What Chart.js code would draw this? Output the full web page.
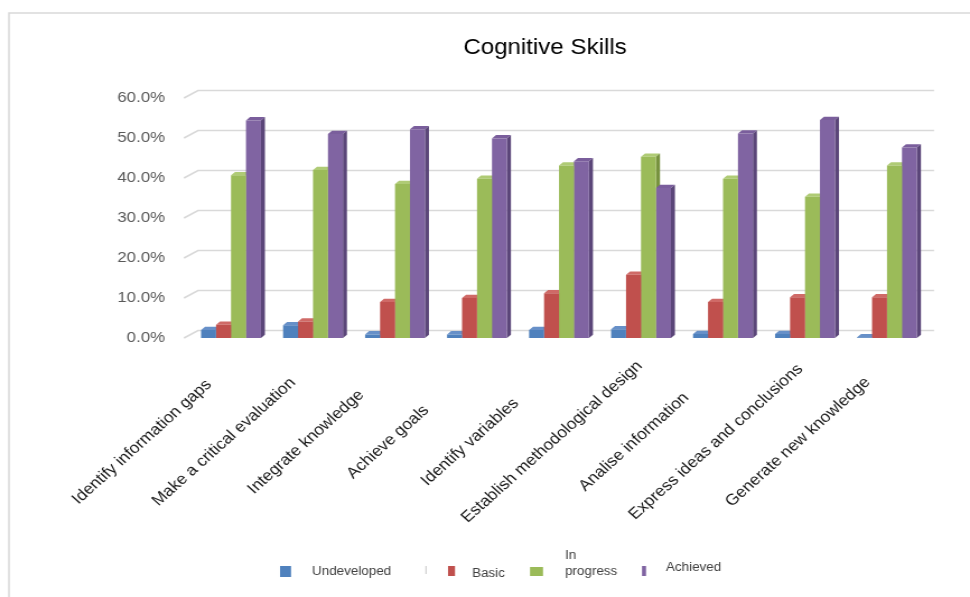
<!DOCTYPE html>
<html>
<head>
<meta charset="utf-8">
<style>
html,body{margin:0;padding:0;background:#fff;overflow:hidden;}
canvas{display:block;width:970px !important;height:597px !important;}
</style>
<script src="https://cdn.jsdelivr.net/npm/chart.js@4.4.1/dist/chart.umd.min.js"></script>
</head>
<body>
<canvas id="c" width="866" height="597"></canvas>
<script>
// ---- data ----
const categories = [
  "Identify information gaps",
  "Make a critical evaluation",
  "Integrate knowledge",
  "Achieve goals",
  "Identify variables",
  "Establish methodological design",
  "Analise information",
  "Express ideas and conclusions",
  "Generate new knowledge"
];
const seriesNames = ["Undeveloped", "Basic", "In progress", "Achieved"];
const undeveloped = [2.0, 3.2, 0.9, 0.9, 2.0, 2.2, 1.0, 1.0, 0.2];
const basic       = [3.3, 4.1, 9.0, 10.0, 11.2, 15.8, 9.0, 10.2, 10.2];
const inProgress  = [40.7, 42.0, 38.5, 39.8, 43.1, 45.3, 39.8, 35.3, 43.1];
const achieved    = [54.4, 51.0, 52.2, 49.9, 44.2, 37.5, 51.1, 54.5, 47.6];
const yTicks = [0, 10, 20, 30, 40, 50, 60];
const chartTitle = "Cognitive Skills";

// ---- styles ----
const SX = 970 / 866;               // horizontal stretch of the picture
const X = v => v / SX;              // reference x -> canvas x
const FONT = "'Liberation Sans', Arial, sans-serif";
const fronts = ["#4F81BD", "#C0504D", "#9BBB59", "#8064A2"];
const tops   = ["#6790C8", "#CF6A67", "#AFCB75", "#7A5E9C"];
const sides  = ["#3A6296", "#953B39", "#77923F", "#5B4679"];
const DX = X(4), DY = 3.3;
const AXIS_W = 100;

Chart.defaults.font.family = FONT;

const deco = {
  id: 'deco',
  beforeDraw(chart) {
    const ctx = chart.ctx;
    ctx.save();
    ctx.fillStyle = '#fff';
    ctx.fillRect(0, 0, chart.width, chart.height);
    ctx.strokeStyle = '#d9d9d9';
    ctx.lineWidth = 1.5;
    ctx.beginPath();
    ctx.moveTo(X(9), chart.height + 2);
    ctx.lineTo(X(9), 13);
    ctx.lineTo(chart.width + 2, 13);
    ctx.stroke();
    ctx.restore();
  },
  beforeDatasetsDraw(chart) {
    const ctx = chart.ctx;
    const ys = chart.scales.y;
    ctx.save();
    // back-wall gridlines
    ctx.strokeStyle = '#d9d9d9';
    ctx.lineWidth = 1.6;
    yTicks.forEach(v => {
      const y = ys.getPixelForValue(v);
      ctx.beginPath();
      ctx.moveTo(X(184), y);
      ctx.lineTo(X(198), y - 7.5);
      ctx.lineTo(X(934), y - 7.5);
      ctx.stroke();
    });
    // 3D top and side faces
    chart.data.datasets.forEach((ds, di) => {
      const meta = chart.getDatasetMeta(di);
      meta.data.forEach(el => {
        const p = el.getProps(['x', 'y', 'base', 'width'], true);
        const l = p.x - p.width / 2, r = p.x + p.width / 2;
        ctx.fillStyle = tops[di];
        ctx.beginPath();
        ctx.moveTo(l, p.y); ctx.lineTo(r, p.y);
        ctx.lineTo(r + DX, p.y - DY); ctx.lineTo(l + DX, p.y - DY);
        ctx.closePath(); ctx.fill();
        ctx.fillStyle = sides[di];
        ctx.beginPath();
        ctx.moveTo(r, p.y); ctx.lineTo(r + DX, p.y - DY);
        ctx.lineTo(r + DX, p.base - DY); ctx.lineTo(r, p.base);
        ctx.closePath(); ctx.fill();
      });
    });
    ctx.restore();
  },
  afterDraw(chart) {
    const ctx = chart.ctx;
    const xs = chart.scales.x;
    ctx.save();
    // title
    ctx.fillStyle = '#000';
    ctx.font = '21.5px ' + FONT;
    ctx.textAlign = 'center';
    ctx.textBaseline = 'middle';
    ctx.fillText(chartTitle, X(545), 48);
    // category labels
    ctx.font = '15.5px ' + FONT;
    ctx.fillStyle = '#1a1a1a';
    categories.forEach((c, i) => {
      const x = xs.getPixelForValue(i);
      ctx.save();
      ctx.translate(x - X(89), 442);
      ctx.rotate(-Math.PI / 4);
      ctx.fillText(c, 0, 0);
      ctx.restore();
    });
    // legend
    ctx.font = '12px ' + FONT;
    ctx.textAlign = 'left';
    const boxes = [
      {x: 280, w: 11, y: 566, h: 11},
      {x: 448, w: 7,  y: 566, h: 10},
      {x: 530, w: 13, y: 567, h: 9},
      {x: 642, w: 4,  y: 566, h: 10}
    ];
    boxes.forEach((b, i) => {
      ctx.fillStyle = fronts[i];
      ctx.fillRect(X(b.x), b.y, X(b.w), b.h);
    });
    ctx.fillStyle = '#404040';
    ctx.fillText(seriesNames[0], X(312), 572);
    ctx.fillText(seriesNames[1], X(472), 574);
    const ip = seriesNames[2].split(' ');
    ctx.fillText(ip[0], X(565), 556);
    ctx.fillText(ip[1], X(565), 572);
    ctx.fillText(seriesNames[3], X(666), 568);
    ctx.strokeStyle = '#c8c8c8';
    ctx.lineWidth = 1;
    ctx.beginPath();
    ctx.moveTo(X(426), 566); ctx.lineTo(X(426), 574);
    ctx.stroke();
    ctx.restore();
  }
};

const values = [undeveloped, basic, inProgress, achieved];
new Chart(document.getElementById('c'), {
  type: 'bar',
  data: {
    labels: categories,
    datasets: seriesNames.map((n, i) => ({
      label: n,
      data: values[i],
      backgroundColor: fronts[i],
      borderWidth: 0,
      barPercentage: 1.0,
      categoryPercentage: 0.73
    }))
  },
  options: {
    responsive: false,
    animation: false,
    devicePixelRatio: 1,
    layout: { padding: { left: X(190) - AXIS_W, right: 866 - X(928), top: 98, bottom: 597 - 338 } },
    plugins: { legend: { display: false }, title: { display: false }, tooltip: { enabled: false } },
    scales: {
      x: { display: false, grid: { display: false } },
      y: {
        min: 0, max: 60,
        afterFit(s) { s.width = AXIS_W; },
        grid: { display: false, drawTicks: false },
        border: { display: false },
        afterBuildTicks(s) { s.ticks = yTicks.map(v => ({ value: v })); },
        ticks: {
          padding: X(25),
          color: '#595959',
          font: { size: 15 },
          callback: v => v.toFixed(1) + '%'
        }
      }
    }
  },
  plugins: [deco]
});
</script>
</body>
</html>
